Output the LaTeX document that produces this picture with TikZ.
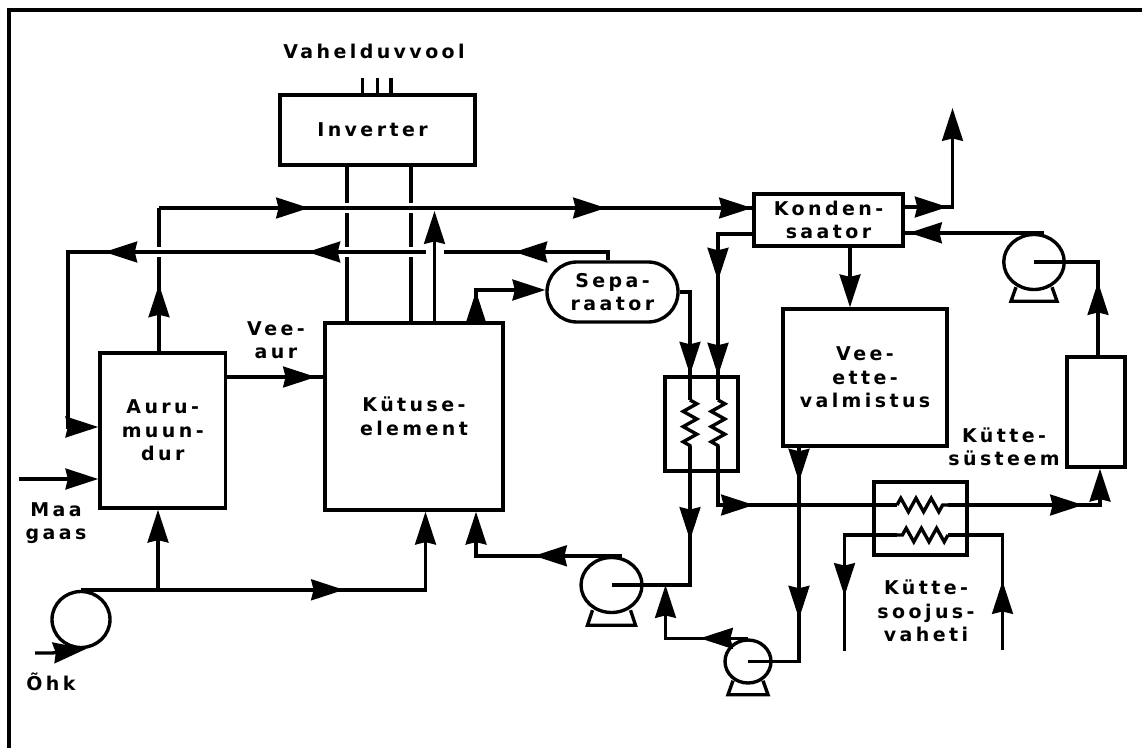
\documentclass[tikz,border=0pt]{standalone}
\usepackage{fontspec}
\setmainfont[LetterSpace=18]{DejaVu Sans}
\usetikzlibrary{arrows.meta,decorations.markings,decorations.pathmorphing,shapes.geometric,shapes.misc}
\tikzset{
  Fl/.tip={Stealth[length=.82cm,width=.52cm,inset=.06cm]},
  pipe/.style={line width=2.4pt},
  lab/.style={font=\bfseries\fontsize{13.5}{16.7}\selectfont,align=center,inner sep=0pt},
  box/.style 2 args={draw,pipe,lab,minimum width=#1*0.025cm,minimum height=#2*0.025cm},
  pumpbody/.style 2 args={draw,pipe,ellipse,inner sep=0pt,minimum width=#1*0.025cm,minimum height=#2*0.025cm},
  tipat/.style={postaction={decorate,decoration={markings,mark=at position #1*0.025cm with {\arrow{Fl}}}}},
  over/.style={preaction={draw,white,line width=#1*0.025cm}},
  coil/.style={pipe,decorate,decoration={zigzag,segment length=.38cm,amplitude=.17cm}}
}
\begin{document}
\begin{tikzpicture}[x=0.025cm,y=-0.025cm]
  \useasboundingbox (0,0) rectangle (1142,748);
  \draw[line width=3pt] (9,748) -- (9,10) -- (1142,10);

  % Boxes
  \node[box={195}{70}] (inverter) at (377.5,130) {Inverter\hspace{.25cm}};
  \node[box={125.5}{155}] (auru) at (162.75,430.5) {Auru-\\muun-\\dur};
  \node[box={178}{187}] (kytus) at (414,416.5) {Kütuse-\\element};
  \node[box={149}{52}] (kond) at (828.5,220) {Konden-\\saator};
  \node[draw,pipe,lab,rounded rectangle,minimum width=3.275cm,minimum height=1.5cm] (sepa) at (612.5,292) {Sepa-\\raator};
  \node[box={164}{137}] (vesi) at (865,377.5) {Vee-\\ette-\\valmistus};
  \node[box={73}{94}] (hxa) at (701.5,424) {};
  \node[box={93}{73}] (hxb) at (920.5,518.5) {};
  \node[box={58}{110}] (heater) at (1096,412) {};

  % Pumps
  \node[pumpbody={61}{55}] (pumpa) at (611.5,585) {};
  \node[pumpbody={46}{43}] (pumpb) at (748,661.5) {};
  \node[pumpbody={60.5}{55}] (pumpc) at (1034,262) {};
  \node[pumpbody={58}{56}] (pumpd) at (81,619.5) {};
  \foreach \n/\w/\h in {pumpa/19/11,pumpb/15/10,pumpc/18/10}
    \draw[pipe] ([shift={(-\w,-4)}]\n.south) -- ++(-5,\h+4) -- ++(2*\w+10,0) -- ++(-5,-\h-4);

  % Labels
  \node[lab] (vool) at (374,51) {Vahelduvvool};
  \node[lab] (vaur) at (276,340) {Vee-\\aur};
  \node[lab] (maag) at (56,523) {Maa\\gaas};
  \node[lab] (ohk) at (51,682) {Õhk};
  \node[lab] (ksys) at (1004,447) {Kütte-\\süsteem};
  \node[lab] (ksoo) at (926,611) {Kütte-\\soojus-\\vaheti};

  % Inverter leads
  \foreach \x in {362.5,377.5,391}{
    \coordinate (ac) at (\x,78);
    \draw[pipe] (ac) -- (inverter.north -| ac);
  }
  \foreach \x in {347,411}{
    \coordinate (dc) at (\x,250);
    \draw[pipe] (inverter.south -| dc) -- (kytus.north -| dc);
  }

  % Upper gas lines
  \coordinate (ra) at (159,208);
  \coordinate (rb) at (68,252);
  \coordinate (rc) at (608,252);
  \coordinate (rd) at (68,427);
  \coordinate (re) at (434.5,211);
  \draw[pipe,over=10,tipat=150,tipat=447,tipat=593] (ra) -- (ra -| kond.west);
  \draw[pipe,tipat=67] (ra |- auru.north) -- (ra);
  \draw[pipe,over=10,tipat=102,tipat=309,tipat=512,-Fl] (rc |- sepa.north) -- (rc) -- (rb) -- (rd) -- (auru.west |- rd);
  \draw[pipe,over=18,-Fl] (re |- kytus.north) -- (re);

  % Auru-muundur and Kütuse-element inputs
  \coordinate (ma) at (19,479);
  \coordinate (va) at (225,377);
  \coordinate (oa) at (35,653);
  \coordinate (ob) at (52,653);
  \coordinate (oc) at (86,649);
  \coordinate (aa) at (425.5,590);
  \coordinate (ab) at (158,590);
  \coordinate (fa) at (476,290);
  \coordinate (fb) at (476,557.5);
  \coordinate (fc) at ([xshift=.25cm]pumpa.north);
  \draw[pipe,-Fl] (ma) -- (auru.west |- ma);
  \draw[pipe,tipat=91] (va) -- (kytus.west |- va);
  \draw[pipe,-Fl] (oa) -- (ob) -- (oc);
  \draw[pipe,tipat=263,-Fl] (pumpd.north) -- (pumpd.north -| aa) -- (kytus.south -| aa);
  \draw[pipe,-Fl] (ab) -- (auru.south -| ab);
  \draw[pipe,tipat=30,-Fl] (kytus.north -| fa) -- (fa) -- (fa -| sepa.west);
  \draw[pipe,tipat=87.5,-Fl] (fc) -- (fc -| fb) -- (kytus.south -| fb);

  % Separator and first exchanger
  \coordinate (ca) at (690,400);
  \coordinate (cb) at (690,446);
  \coordinate (cc) at (718,234);
  \coordinate (cd) at (718,400);
  \coordinate (ce) at (718,446);
  \coordinate (cf) at (690,585);
  \coordinate (cg) at (718,505);
  \draw[pipe,tipat=93] (sepa.east) -| (ca);
  \draw[pipe,tipat=81,tipat=176] (kond.west |- cc) -- (cc) -- (cd);
  \draw[coil] (ca) -- (cb);
  \draw[coil] (cd) -- (ce);
  \draw[pipe,tipat=94] (cb) -- (cf) -- (pumpa.center);

  % Water line and lower pumps
  \coordinate (wa) at (799,661.5);
  \coordinate (vb) at (850,280);
  \coordinate (pa) at (665.5,585);
  \draw[pipe,-Fl] (kond.south -| vb) -- (vesi.north -| vb);
  \draw[pipe,tipat=34,tipat=171] (wa |- vesi.south) -- (wa) -- (pumpb.center);
  \draw[pipe,tipat=48,-Fl] (pumpb.north) -- (pumpb.north -| pa) -- (pa);

  % Second exchanger and heating circuit
  \coordinate (ha) at (897,505);
  \coordinate (hb) at (948,505);
  \coordinate (hc) at (1100,505);
  \coordinate (hd) at (897,535);
  \coordinate (he) at (948,535);
  \coordinate (hf) at (1002.5,650);
  \coordinate (hg) at (1002.5,535);
  \coordinate (hh) at (844.5,535);
  \coordinate (hi) at (844.5,651);
  \draw[pipe,tipat=95] (ce) -- (cg) -- (ha);
  \draw[coil] (ha) -- (hb);
  \draw[coil] (he) -- (hd);
  \draw[pipe,tipat=135,-Fl] (hb) -- (hc) -- (heater.south -| hc);
  \draw[pipe,tipat=69] (hf) -- (hg) -- (he);
  \draw[pipe,tipat=113.5] (hd) -- (hh) -- (hi);

  % Condenser outlets
  \coordinate (ka) at (952.5,207);
  \coordinate (kb) at (952.5,108);
  \coordinate (kc) at (1098,262);
  \coordinate (kd) at (1098,357);
  \draw[pipe,tipat=43,-Fl] (kond.east |- ka) -- (ka) -- (kb);
  \draw[pipe,tipat=75] (kd) -- (kc) -- (pumpc.center);
  \draw[pipe,tipat=135] ([xshift=.25cm]pumpc.north) -- (kond.east |- pumpc.north);
\end{tikzpicture}
\end{document}
